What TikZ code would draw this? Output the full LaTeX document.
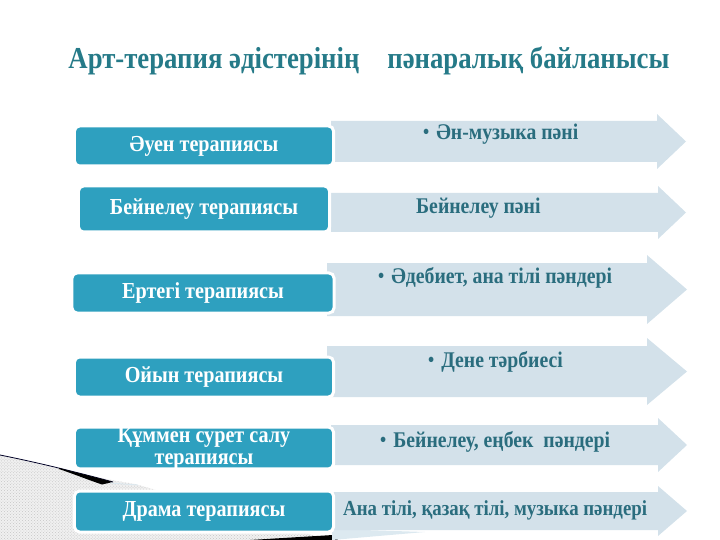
\documentclass[tikz,border=0pt]{standalone}
\usepackage{fontspec}
\setmainfont{Liberation Serif}[FakeStretch=0.88]
\usepackage{tikz}
\usetikzlibrary{patterns}
\definecolor{boxblue}{HTML}{2EA0BF}
\definecolor{arrowblue}{HTML}{D3E1EA}
\definecolor{subjtext}{HTML}{2A6D7E}
\definecolor{titleteal}{HTML}{257A88}
\definecolor{curlblue}{HTML}{DCE9F0}
\newcommand{\bulletdot}{\raisebox{1bp}{\fontsize{20}{20}\selectfont•}\hspace{7bp}}

\begin{document}
\begin{tikzpicture}[x=1bp,y=-1bp,
        therapy/.style={fill=boxblue,draw=white,line width=3bp,rounded corners=5bp,text=white,
            font=\bfseries\fontsize{23}{22}\selectfont,align=center,minimum width=259bp,minimum height=40bp,inner sep=0pt},
        subject/.style={text=subjtext,font=\bfseries\fontsize{22.5}{24}\selectfont,anchor=west,inner sep=0pt},
        arrowbg/.style={fill=arrowblue}]
        \useasboundingbox (0,0) rectangle (720,540);
        \fill[gray!12] (0,455) .. controls (50,466) and (95,478) .. (135,484) -- (330,540) -- (0,540) -- cycle;
        \fill[pattern=crosshatch dots,pattern color=gray!45] (0,455) .. controls (50,466) and (95,478) .. (135,484) -- (330,540) -- (0,540) -- cycle;
        \draw[black!85!blue,line width=0.8bp] (0,455) .. controls (40,463) and (80,473) .. (113,482);
        \fill[black] (59,468) .. controls (80,473.5) and (100,478.5) .. (113,482) -- (102,484.5) .. controls (90,480.5) and (75,474.5) .. (59,469) -- cycle;
        \draw[curlblue,line width=0.8bp] (110,483) -- (138,485);
        \fill[black] (250,540) -- (333,535) -- (338,540) -- cycle;
        \fill[curlblue] (332,529) -- (425,532) -- (332,540) -- cycle;
        \node[text=titleteal,font=\bfseries\fontsize{30.5}{34}\selectfont] (title) at (369,61) {Арт-терапия әдістерінің\hspace{28bp}пәнаралық байланысы};
        \fill[arrowbg] (331,121) -- (657,121) -- (657,114) -- (686,141.5) -- (657,169) -- (657,162) -- (331,162) -- cycle;
        \fill[arrowbg] (331,193) -- (658,193) -- (658,186) -- (686,212.5) -- (658,239) -- (658,232) -- (331,232) -- cycle;
        \fill[arrowbg] (327,263) -- (647,263) -- (647,255) -- (687,289.5) -- (647,324) -- (647,316) -- (327,316) -- cycle;
        \fill[arrowbg] (327,346) -- (647,346) -- (647,338) -- (687,371.5) -- (647,405) -- (647,397) -- (327,397) -- cycle;
        \fill[arrowbg] (331,425) -- (658,425) -- (658,418) -- (687,445) -- (658,472) -- (658,465) -- (331,465) -- cycle;
        \fill[arrowbg] (331,492) -- (658,492) -- (658,486) -- (687,511) -- (658,536) -- (658,530) -- (331,530) -- cycle;
        \node[therapy] (auen) at (204,146) {Әуен терапиясы};
        \node[therapy,minimum width=251bp,minimum height=46bp] (beinelew) at (204,209) {Бейнелеу терапиясы};
        \node[therapy,minimum width=262bp] (ertegi) at (203,293) {Ертегі терапиясы};
        \node[therapy] (oiyn) at (204,377) {Ойын терапиясы};
        \node[therapy] (qum) at (204,448) {Құммен сурет салу\\терапиясы};
        \node[therapy,minimum height=41bp] (drama) at (204,511.5) {Драма терапиясы};
        \node[subject] (muzyka) at (423,134) {\bulletdot Ән-музыка пәні};
        \node[subject] (beinelewpan) at (416,208) {Бейнелеу пәні};
        \node[subject] (adebiet) at (378,278) {\bulletdot Әдебиет, ана тілі пәндері};
        \node[subject] (dene) at (428,362) {\bulletdot Дене тәрбиесі};
        \node[subject] (enbek) at (380,442) {\bulletdot Бейнелеу, еңбек\hspace{5bp} пәндері};
        \node[subject,font=\bfseries\fontsize{21.5}{24}\selectfont] (anatili) at (343,510) {Ана тілі, қазақ тілі, музыка пәндері};
    \end{tikzpicture}
\end{document}
